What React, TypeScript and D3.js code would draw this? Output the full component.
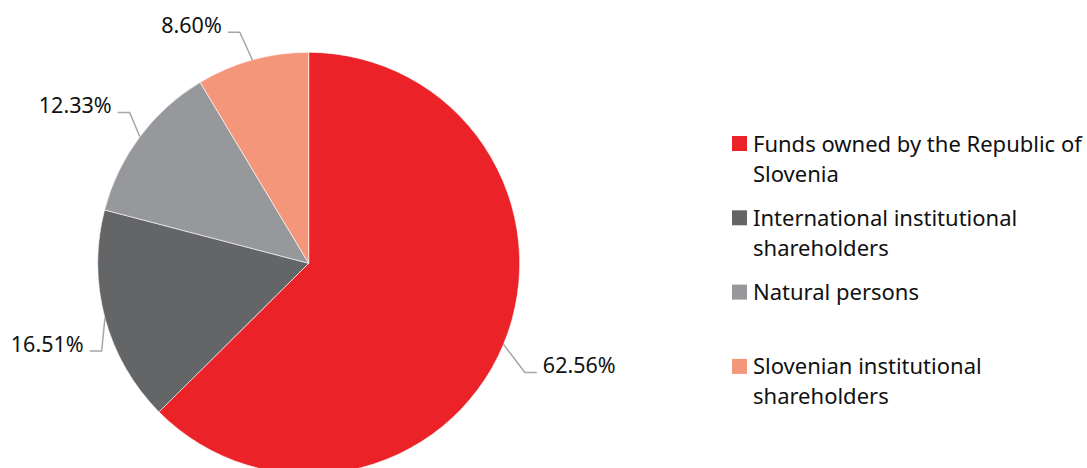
import React from "react";
import * as d3 from "d3";

const categories = [
  "Funds owned by the Republic of Slovenia",
  "International institutional shareholders",
  "Natural persons",
  "Slovenian institutional shareholders",
];
const values = [62.56, 16.51, 12.33, 8.6];
const valueLabels = ["62.56%", "16.51%", "12.33%", "8.60%"];
const legendLines = [
  ["Funds owned by the Republic of", "Slovenia"],
  ["International institutional", "shareholders"],
  ["Natural persons"],
  ["Slovenian institutional", "shareholders"],
];
const colors = ["#EC2229", "#646567", "#97989B", "#F4967A"];

// layout (annotation placement, not data)
const W = 1087;
const H = 468;
const CX = 308.7;
const CY = 263.3;
const R = 211;
const LABEL_R = 245;
const labelNudge: [number, number][] = [
  [2, 15],
  [17.5, 24],
  [5, -4],
  [-15.5, 5],
];
const FONT = "'Noto Sans', 'Open Sans', sans-serif";

export default function App() {
  const pie = d3
    .pie<number>()
    .sort(null)
    .value((d) => d)
    .startAngle(0)
    .endAngle(2 * Math.PI);
  const arcs = pie(values);
  const arcGen = d3.arc<d3.PieArcDatum<number>>().innerRadius(0).outerRadius(R);

  const polar = (r: number, a: number): [number, number] => [
    CX + r * Math.sin(a),
    CY - r * Math.cos(a),
  ];

  const legendX = 732;
  const legendY0 = 143.5;
  const legendStep = 74.3;
  const lineH = 30;

  return (
    <svg
      width={W}
      height={H}
      style={{ position: "absolute", left: 0, top: 0, display: "block", background: "#fff" }}
      fontFamily={FONT}
    >
      <g transform={`translate(${CX},${CY})`}>
        {arcs.map((a, i) => (
          <path key={i} d={arcGen(a) || ""} fill={colors[i]} stroke="#ffffff" strokeWidth={0.6} />
        ))}
      </g>
      {arcs.map((a, i) => {
        const mid = (a.startAngle + a.endAngle) / 2;
        const edge = polar(R, mid);
        const base = polar(LABEL_R, mid);
        const end: [number, number] = [base[0] + labelNudge[i][0], base[1] + labelNudge[i][1]];
        const right = Math.sin(mid) > 0;
        const elbow: [number, number] = [end[0] + (right ? -12 : 12), end[1]];
        const tx = end[0] + (right ? 6 : -6);
        return (
          <g key={i}>
            <polyline
              points={`${edge[0]},${edge[1]} ${elbow[0]},${elbow[1]} ${end[0]},${end[1]}`}
              fill="none"
              stroke="#A6A6A6"
              strokeWidth={1.5}
            />
            <text
              x={tx}
              y={end[1] + 1}
              textAnchor={right ? "start" : "end"}
              fontSize={21.5}
              fill="#111"
            >
              {valueLabels[i]}
            </text>
          </g>
        );
      })}
      {categories.map((c, i) => {
        const cy = legendY0 + i * legendStep;
        return (
          <g key={c}>
            <rect x={legendX} y={cy - 7.5} width={15} height={15} fill={colors[i]} />
            {legendLines[i].map((ln, j) => (
              <text key={j} x={753} y={cy + 8 + j * lineH} fontSize={22} fill="#111">
                {ln}
              </text>
            ))}
          </g>
        );
      })}
    </svg>
  );
}
